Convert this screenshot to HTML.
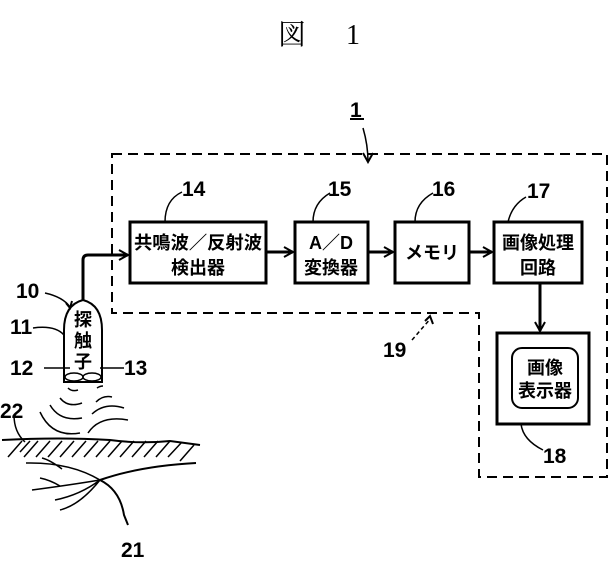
<!DOCTYPE html>
<html><head><meta charset="utf-8"><style>
body{margin:0;background:#fff}
svg text{font-family:"Liberation Sans","Noto Sans CJK JP",sans-serif;font-weight:bold;fill:#000}
</style></head><body>
<svg width="613" height="567" viewBox="0 0 613 567" xmlns="http://www.w3.org/2000/svg">
<defs><marker id="a" markerWidth="12" markerHeight="12" refX="10" refY="6" orient="auto" markerUnits="userSpaceOnUse"><path d="M1,1 L10,6 L1,11" fill="none" stroke="#000" stroke-width="2"/></marker></defs>
<text x="278" y="44" font-size="28" style="font-family:'Noto Serif CJK SC',serif;font-weight:normal">図</text>
<text x="346" y="44" font-size="28" style="font-family:'Liberation Serif',serif;font-weight:normal">1</text>
<text x="350" y="117" font-size="21">1</text>
<line x1="350" y1="119" x2="364" y2="119" stroke="#000" stroke-width="2"/>
<path d="M363,128 Q368,145 368,162" fill="none" stroke="#000" stroke-width="1.5" marker-end="url(#a)"/>
<path d="M112,154 H607 V477 H479 V313 H112 Z" fill="none" stroke="#000" stroke-width="2" stroke-dasharray="10,6"/>
<g fill="none" stroke="#000" stroke-width="3">
<rect x="130" y="222" width="136" height="61"/>
<rect x="295" y="222" width="73" height="61"/>
<rect x="395" y="222" width="74" height="61"/>
<rect x="494" y="222" width="88" height="61"/>
<rect x="497" y="333" width="92" height="91"/>
</g>
<rect x="512" y="348" width="66" height="60" rx="10" fill="none" stroke="#000" stroke-width="2"/>
<g stroke="#000" stroke-width="3" fill="none">
<line x1="266" y1="252" x2="293" y2="252" marker-end="url(#a)"/>
<line x1="368" y1="252" x2="393" y2="252" marker-end="url(#a)"/>
<line x1="469" y1="252" x2="492" y2="252" marker-end="url(#a)"/>
<line x1="540" y1="283" x2="540" y2="331" marker-end="url(#a)"/>
<path d="M83,300 V260 Q83,255 88,255 H128" marker-end="url(#a)"/>
</g>
<g font-size="18" text-anchor="middle">
<text x="198" y="249" textLength="128" lengthAdjust="spacingAndGlyphs">共鳴波／反射波</text>
<text x="198" y="274">検出器</text>
<text x="331" y="249">A／D</text>
<text x="331" y="274">変換器</text>
<text x="432" y="259">メモリ</text>
<text x="538" y="249">画像処理</text>
<text x="538" y="274">回路</text>
<text x="545" y="374">画像</text>
<text x="545" y="397">表示器</text>
</g>
<g font-size="21">
<text x="182" y="196">14</text>
<text x="328" y="196">15</text>
<text x="432" y="196">16</text>
<text x="527" y="198">17</text>
<text x="543" y="463">18</text>
<text x="383" y="357">19</text>
<text x="16" y="298">10</text>
<text x="10" y="334">11</text>
<text x="10" y="375">12</text>
<text x="124" y="375">13</text>
<text x="0" y="418">22</text>
<text x="121" y="557">21</text>
</g>
<g fill="none" stroke="#000" stroke-width="1.5">
<path d="M165,222 Q165,200 182,192"/>
<path d="M313,222 Q313,203 330,193"/>
<path d="M415,222 Q415,203 433,193"/>
<path d="M508,222 Q512,205 526,197"/>
<path d="M521,424 Q523,440 543,450"/>
<path d="M412,340 L431,318" stroke-dasharray="4,3"/>
<path d="M425,321 L430,316 L433,324" stroke-width="2"/>
<path d="M45,293 Q63,297 70,307"/>
<path d="M66,303 L70,308 L72,301" stroke-width="2"/>
<path d="M33,328 Q55,325 64,335"/>
<path d="M44,368 H70"/>
<path d="M100,368 H124"/>
<path d="M14,415 Q14,432 25,442"/>
<path d="M64,382 V330 Q64,305 83,300 Q102,305 102,330 V382 Z" stroke-width="2"/>
<line x1="64" y1="382" x2="102" y2="382" stroke-width="2"/>
<ellipse cx="74" cy="377" rx="9" ry="4"/>
<ellipse cx="92" cy="377" rx="9" ry="4"/>
<path d="M68,388 Q72,392 78,390"/>
<path d="M60,398 Q68,408 82,403"/>
<path d="M50,405 Q60,422 82,418"/>
<path d="M40,412 Q52,438 80,433"/>
<path d="M97,388 Q100,386 103,386"/>
<path d="M96,402 Q103,395 112,397"/>
<path d="M92,414 Q105,402 124,408"/>
<path d="M88,433 Q100,415 128,420"/>
<path d="M2,440 Q60,437 110,440 Q140,444 170,441 L200,445" stroke-width="2"/>
<path d="M20,452 L30,441 M8,457 L22,441 M24,457 L38,441 M36,457 L50,441 M48,457 L62,441 M60,457 L74,441 M72,457 L86,441 M84,457 L98,441 M96,457 L110,441 M108,457 L122,441 M120,457 L134,441 M132,457 L146,441 M144,457 L158,441 M156,457 L170,441 M168,457 L182,442 M180,461 L194,445"/>
<path d="M100,480 Q140,466 196,463" stroke-width="2"/>
<path d="M100,480 Q120,490 124,515 L128,525" stroke-width="2"/>
<path d="M100,480 Q70,462 26,463 M62,469 Q50,460 42,458"/>
<path d="M100,480 Q70,485 32,490 M60,486 Q50,480 40,478"/>
<path d="M100,480 Q80,495 55,500 M100,480 Q80,505 60,510"/>
</g>
<g font-size="18" text-anchor="middle">
<text x="83" y="326">探</text>
<text x="83" y="347">触</text>
<text x="83" y="368">子</text>
</g>
</svg>
</body></html>
